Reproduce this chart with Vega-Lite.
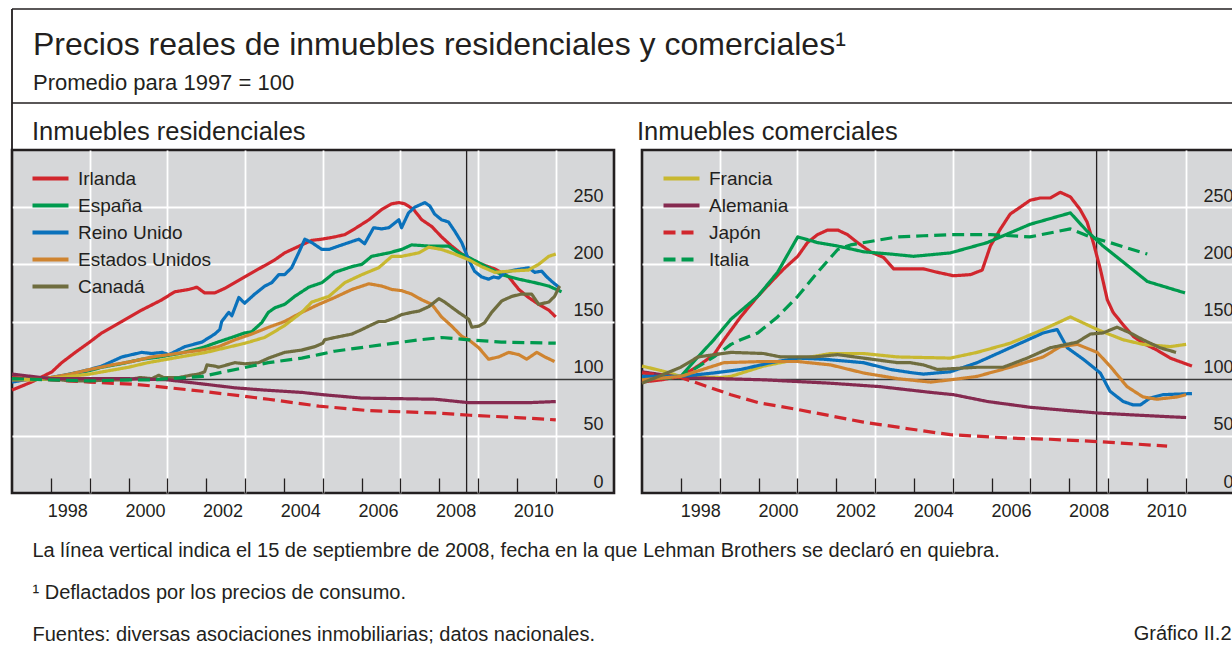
{
"$schema":"https://vega.github.io/schema/vega-lite/v6.json",
"background":"white",
"padding":{"left":9,"top":8,"right":0,"bottom":0},
"config":{
 "font":"Liberation Sans",
 "view":{"fill":"#d6d7d9","stroke":"#231f20","strokeWidth":2.6},
 "axis":{"labelFont":"Liberation Sans","labelFontSize":18,"labelColor":"#231f20","titleFont":"Liberation Sans","titleFontWeight":"normal","titleColor":"#231f20"},
 "title":{"font":"Liberation Sans","fontWeight":"normal","color":"#231f20","subtitleFont":"Liberation Sans","subtitleColor":"#231f20"},
 "legend":{"labelFont":"Liberation Sans","labelFontSize":19,"labelColor":"#231f20","title":null,"padding":0}
},
"datasets":{
"res":[
{"s":"Irlanda","x":1997.0,"y":90},{"s":"Irlanda","x":1997.5,"y":97},{"s":"Irlanda","x":1998.03,"y":106},{"s":"Irlanda","x":1998.28,"y":114},{"s":"Irlanda","x":1998.67,"y":124},{"s":"Irlanda","x":1999.0,"y":132},{"s":"Irlanda","x":1999.31,"y":140},{"s":"Irlanda","x":1999.83,"y":150},{"s":"Irlanda","x":2000.34,"y":160},{"s":"Irlanda","x":2000.86,"y":169},{"s":"Irlanda","x":2001.19,"y":176},{"s":"Irlanda","x":2001.55,"y":178},{"s":"Irlanda","x":2001.76,"y":180},{"s":"Irlanda","x":2001.96,"y":175},{"s":"Irlanda","x":2002.22,"y":175},{"s":"Irlanda","x":2002.48,"y":179},{"s":"Irlanda","x":2002.99,"y":189},{"s":"Irlanda","x":2003.25,"y":194},{"s":"Irlanda","x":2003.77,"y":204},{"s":"Irlanda","x":2004.02,"y":210},{"s":"Irlanda","x":2004.46,"y":217},{"s":"Irlanda","x":2004.72,"y":221},{"s":"Irlanda","x":2004.98,"y":222},{"s":"Irlanda","x":2005.31,"y":224},{"s":"Irlanda","x":2005.57,"y":226},{"s":"Irlanda","x":2005.82,"y":231},{"s":"Irlanda","x":2006.19,"y":239},{"s":"Irlanda","x":2006.52,"y":248},{"s":"Irlanda","x":2006.78,"y":253},{"s":"Irlanda","x":2006.96,"y":254},{"s":"Irlanda","x":2007.11,"y":253},{"s":"Irlanda","x":2007.34,"y":248},{"s":"Irlanda","x":2007.55,"y":239},{"s":"Irlanda","x":2007.81,"y":233},{"s":"Irlanda","x":2008.06,"y":224},{"s":"Irlanda","x":2008.32,"y":216},{"s":"Irlanda","x":2008.58,"y":209},{"s":"Irlanda","x":2008.84,"y":204},{"s":"Irlanda","x":2009.09,"y":200},{"s":"Irlanda","x":2009.43,"y":196},{"s":"Irlanda","x":2009.79,"y":189},{"s":"Irlanda","x":2010.05,"y":178},{"s":"Irlanda","x":2010.3,"y":171},{"s":"Irlanda","x":2010.56,"y":165},{"s":"Irlanda","x":2010.82,"y":160},{"s":"Irlanda","x":2011.0,"y":154},
{"s":"España","x":1997.0,"y":101},{"s":"España","x":1997.5,"y":99},{"s":"España","x":1998.0,"y":100},{"s":"España","x":1998.5,"y":104},{"s":"España","x":1999.0,"y":107},{"s":"España","x":1999.31,"y":110},{"s":"España","x":1999.8,"y":113},{"s":"España","x":2000.34,"y":117},{"s":"España","x":2000.8,"y":119},{"s":"España","x":2001.3,"y":122},{"s":"España","x":2001.89,"y":127},{"s":"España","x":2002.3,"y":132},{"s":"España","x":2002.74,"y":137},{"s":"España","x":2002.99,"y":140},{"s":"España","x":2003.17,"y":141},{"s":"España","x":2003.43,"y":149},{"s":"España","x":2003.6,"y":158},{"s":"España","x":2003.77,"y":162},{"s":"España","x":2004.02,"y":165},{"s":"España","x":2004.28,"y":172},{"s":"España","x":2004.64,"y":180},{"s":"España","x":2004.98,"y":184},{"s":"España","x":2005.31,"y":193},{"s":"España","x":2005.75,"y":198},{"s":"España","x":2006.01,"y":200},{"s":"España","x":2006.26,"y":207},{"s":"España","x":2006.7,"y":210},{"s":"España","x":2007.03,"y":213},{"s":"España","x":2007.29,"y":217},{"s":"España","x":2007.73,"y":216},{"s":"España","x":2008.24,"y":216},{"s":"España","x":2008.5,"y":210},{"s":"España","x":2008.76,"y":206},{"s":"España","x":2009.27,"y":197},{"s":"España","x":2009.61,"y":191},{"s":"España","x":2010.05,"y":187},{"s":"España","x":2010.46,"y":184},{"s":"España","x":2010.82,"y":181},{"s":"España","x":2011.15,"y":176},
{"s":"Reino Unido","x":1997.0,"y":97},{"s":"Reino Unido","x":1997.5,"y":100},{"s":"Reino Unido","x":1998.0,"y":101},{"s":"Reino Unido","x":1998.5,"y":104},{"s":"Reino Unido","x":1999.0,"y":108},{"s":"Reino Unido","x":1999.31,"y":111},{"s":"Reino Unido","x":1999.57,"y":115},{"s":"Reino Unido","x":1999.83,"y":119},{"s":"Reino Unido","x":2000.08,"y":121},{"s":"Reino Unido","x":2000.34,"y":123},{"s":"Reino Unido","x":2000.6,"y":122},{"s":"Reino Unido","x":2000.86,"y":123},{"s":"Reino Unido","x":2001.04,"y":121},{"s":"Reino Unido","x":2001.45,"y":128},{"s":"Reino Unido","x":2001.89,"y":132},{"s":"Reino Unido","x":2002.22,"y":139},{"s":"Reino Unido","x":2002.35,"y":143},{"s":"Reino Unido","x":2002.4,"y":150},{"s":"Reino Unido","x":2002.58,"y":158},{"s":"Reino Unido","x":2002.66,"y":155},{"s":"Reino Unido","x":2002.84,"y":171},{"s":"Reino Unido","x":2002.99,"y":166},{"s":"Reino Unido","x":2003.25,"y":174},{"s":"Reino Unido","x":2003.51,"y":181},{"s":"Reino Unido","x":2003.69,"y":184},{"s":"Reino Unido","x":2003.87,"y":191},{"s":"Reino Unido","x":2004.02,"y":191},{"s":"Reino Unido","x":2004.2,"y":197},{"s":"Reino Unido","x":2004.38,"y":210},{"s":"Reino Unido","x":2004.54,"y":222},{"s":"Reino Unido","x":2004.72,"y":219},{"s":"Reino Unido","x":2004.98,"y":213},{"s":"Reino Unido","x":2005.16,"y":213},{"s":"Reino Unido","x":2005.41,"y":216},{"s":"Reino Unido","x":2005.67,"y":219},{"s":"Reino Unido","x":2005.93,"y":222},{"s":"Reino Unido","x":2006.08,"y":218},{"s":"Reino Unido","x":2006.31,"y":232},{"s":"Reino Unido","x":2006.52,"y":231},{"s":"Reino Unido","x":2006.7,"y":232},{"s":"Reino Unido","x":2006.96,"y":239},{"s":"Reino Unido","x":2007.03,"y":232},{"s":"Reino Unido","x":2007.21,"y":245},{"s":"Reino Unido","x":2007.37,"y":250},{"s":"Reino Unido","x":2007.63,"y":254},{"s":"Reino Unido","x":2007.76,"y":251},{"s":"Reino Unido","x":2007.88,"y":244},{"s":"Reino Unido","x":2008.06,"y":239},{"s":"Reino Unido","x":2008.24,"y":237},{"s":"Reino Unido","x":2008.4,"y":229},{"s":"Reino Unido","x":2008.58,"y":219},{"s":"Reino Unido","x":2008.76,"y":204},{"s":"Reino Unido","x":2008.91,"y":194},{"s":"Reino Unido","x":2009.09,"y":189},{"s":"Reino Unido","x":2009.27,"y":187},{"s":"Reino Unido","x":2009.4,"y":189},{"s":"Reino Unido","x":2009.53,"y":188},{"s":"Reino Unido","x":2009.69,"y":193},{"s":"Reino Unido","x":2009.94,"y":195},{"s":"Reino Unido","x":2010.3,"y":197},{"s":"Reino Unido","x":2010.46,"y":193},{"s":"Reino Unido","x":2010.64,"y":194},{"s":"Reino Unido","x":2010.77,"y":189},{"s":"Reino Unido","x":2010.9,"y":185},{"s":"Reino Unido","x":2011.08,"y":180},
{"s":"Estados Unidos","x":1997.0,"y":99},{"s":"Estados Unidos","x":1997.5,"y":99},{"s":"Estados Unidos","x":1998.0,"y":101},{"s":"Estados Unidos","x":1998.5,"y":104},{"s":"Estados Unidos","x":1999.0,"y":108},{"s":"Estados Unidos","x":1999.57,"y":112},{"s":"Estados Unidos","x":2000.08,"y":115},{"s":"Estados Unidos","x":2000.6,"y":119},{"s":"Estados Unidos","x":2001.04,"y":121},{"s":"Estados Unidos","x":2001.45,"y":123},{"s":"Estados Unidos","x":2001.89,"y":125},{"s":"Estados Unidos","x":2002.32,"y":128},{"s":"Estados Unidos","x":2002.74,"y":134},{"s":"Estados Unidos","x":2003.17,"y":139},{"s":"Estados Unidos","x":2003.61,"y":145},{"s":"Estados Unidos","x":2004.02,"y":150},{"s":"Estados Unidos","x":2004.46,"y":158},{"s":"Estados Unidos","x":2004.9,"y":165},{"s":"Estados Unidos","x":2005.31,"y":171},{"s":"Estados Unidos","x":2005.75,"y":178},{"s":"Estados Unidos","x":2006.19,"y":183},{"s":"Estados Unidos","x":2006.52,"y":181},{"s":"Estados Unidos","x":2006.78,"y":178},{"s":"Estados Unidos","x":2007.03,"y":177},{"s":"Estados Unidos","x":2007.29,"y":174},{"s":"Estados Unidos","x":2007.55,"y":169},{"s":"Estados Unidos","x":2007.81,"y":165},{"s":"Estados Unidos","x":2008.06,"y":154},{"s":"Estados Unidos","x":2008.32,"y":146},{"s":"Estados Unidos","x":2008.58,"y":137},{"s":"Estados Unidos","x":2008.76,"y":134},{"s":"Estados Unidos","x":2009.02,"y":127},{"s":"Estados Unidos","x":2009.27,"y":117},{"s":"Estados Unidos","x":2009.53,"y":119},{"s":"Estados Unidos","x":2009.79,"y":123},{"s":"Estados Unidos","x":2010.05,"y":121},{"s":"Estados Unidos","x":2010.25,"y":117},{"s":"Estados Unidos","x":2010.51,"y":123},{"s":"Estados Unidos","x":2010.72,"y":119},{"s":"Estados Unidos","x":2010.97,"y":115},
{"s":"Canadá","x":1997.0,"y":99},{"s":"Canadá","x":1997.5,"y":100},{"s":"Canadá","x":1998.0,"y":100},{"s":"Canadá","x":1998.5,"y":98},{"s":"Canadá","x":1999.0,"y":98},{"s":"Canadá","x":1999.5,"y":99},{"s":"Canadá","x":2000.0,"y":99},{"s":"Canadá","x":2000.3,"y":101},{"s":"Canadá","x":2000.6,"y":100},{"s":"Canadá","x":2000.78,"y":103},{"s":"Canadá","x":2000.9,"y":101},{"s":"Canadá","x":2001.3,"y":101},{"s":"Canadá","x":2001.6,"y":103},{"s":"Canadá","x":2001.8,"y":104},{"s":"Canadá","x":2001.96,"y":106},{"s":"Canadá","x":2002.02,"y":112},{"s":"Canadá","x":2002.22,"y":111},{"s":"Canadá","x":2002.32,"y":110},{"s":"Canadá","x":2002.74,"y":114},{"s":"Canadá","x":2003.0,"y":113},{"s":"Canadá","x":2003.35,"y":114},{"s":"Canadá","x":2003.61,"y":118},{"s":"Canadá","x":2004.02,"y":123},{"s":"Canadá","x":2004.46,"y":125},{"s":"Canadá","x":2004.8,"y":128},{"s":"Canadá","x":2005.0,"y":131},{"s":"Canadá","x":2005.05,"y":134},{"s":"Canadá","x":2005.31,"y":136},{"s":"Canadá","x":2005.75,"y":139},{"s":"Canadá","x":2006.01,"y":143},{"s":"Canadá","x":2006.19,"y":146},{"s":"Canadá","x":2006.44,"y":150},{"s":"Canadá","x":2006.6,"y":150},{"s":"Canadá","x":2006.85,"y":153},{"s":"Canadá","x":2007.03,"y":156},{"s":"Canadá","x":2007.29,"y":158},{"s":"Canadá","x":2007.47,"y":159},{"s":"Canadá","x":2007.73,"y":163},{"s":"Canadá","x":2007.99,"y":170},{"s":"Canadá","x":2008.14,"y":167},{"s":"Canadá","x":2008.5,"y":158},{"s":"Canadá","x":2008.76,"y":152},{"s":"Canadá","x":2008.84,"y":145},{"s":"Canadá","x":2009.02,"y":146},{"s":"Canadá","x":2009.17,"y":149},{"s":"Canadá","x":2009.35,"y":158},{"s":"Canadá","x":2009.61,"y":168},{"s":"Canadá","x":2009.87,"y":172},{"s":"Canadá","x":2010.12,"y":174},{"s":"Canadá","x":2010.38,"y":174},{"s":"Canadá","x":2010.56,"y":165},{"s":"Canadá","x":2010.82,"y":167},{"s":"Canadá","x":2010.97,"y":172},{"s":"Canadá","x":2011.1,"y":181},
{"s":"Francia","x":1997.0,"y":100},{"s":"Francia","x":1997.5,"y":99},{"s":"Francia","x":1998.0,"y":100},{"s":"Francia","x":1998.5,"y":102},{"s":"Francia","x":1999.0,"y":104},{"s":"Francia","x":1999.5,"y":107},{"s":"Francia","x":2000.0,"y":110},{"s":"Francia","x":2000.5,"y":114},{"s":"Francia","x":2001.0,"y":117},{"s":"Francia","x":2001.5,"y":120},{"s":"Francia","x":2002.0,"y":123},{"s":"Francia","x":2002.5,"y":127},{"s":"Francia","x":2003.0,"y":131},{"s":"Francia","x":2003.5,"y":136},{"s":"Francia","x":2004.0,"y":146},{"s":"Francia","x":2004.46,"y":158},{"s":"Francia","x":2004.72,"y":167},{"s":"Francia","x":2005.16,"y":172},{"s":"Francia","x":2005.57,"y":184},{"s":"Francia","x":2006.01,"y":191},{"s":"Francia","x":2006.44,"y":197},{"s":"Francia","x":2006.78,"y":207},{"s":"Francia","x":2007.03,"y":207},{"s":"Francia","x":2007.47,"y":210},{"s":"Francia","x":2007.73,"y":215},{"s":"Francia","x":2008.06,"y":213},{"s":"Francia","x":2008.4,"y":209},{"s":"Francia","x":2008.76,"y":204},{"s":"Francia","x":2009.09,"y":198},{"s":"Francia","x":2009.43,"y":193},{"s":"Francia","x":2009.79,"y":194},{"s":"Francia","x":2010.3,"y":195},{"s":"Francia","x":2010.56,"y":200},{"s":"Francia","x":2010.82,"y":207},{"s":"Francia","x":2011.0,"y":209},
{"s":"Alemania","x":1997.0,"y":104},{"s":"Alemania","x":1997.5,"y":102},{"s":"Alemania","x":1998.0,"y":100},{"s":"Alemania","x":1999.0,"y":100},{"s":"Alemania","x":2000.0,"y":100},{"s":"Alemania","x":2001.0,"y":99},{"s":"Alemania","x":2002.0,"y":95},{"s":"Alemania","x":2002.74,"y":92},{"s":"Alemania","x":2003.5,"y":90},{"s":"Alemania","x":2004.46,"y":88},{"s":"Alemania","x":2005.0,"y":86},{"s":"Alemania","x":2006.0,"y":83},{"s":"Alemania","x":2007.0,"y":82.5},{"s":"Alemania","x":2007.9,"y":82},{"s":"Alemania","x":2008.76,"y":79},{"s":"Alemania","x":2009.6,"y":79},{"s":"Alemania","x":2010.3,"y":79},{"s":"Alemania","x":2011.0,"y":80},
{"s":"Japón","x":1997.0,"y":101},{"s":"Japón","x":1998.0,"y":99},{"s":"Japón","x":1999.0,"y":97},{"s":"Japón","x":2000.2,"y":95},{"s":"Japón","x":2001.9,"y":89},{"s":"Japón","x":2003.6,"y":82},{"s":"Japón","x":2004.9,"y":76},{"s":"Japón","x":2006.2,"y":72},{"s":"Japón","x":2007.9,"y":70},{"s":"Japón","x":2008.8,"y":68},{"s":"Japón","x":2010.0,"y":66},{"s":"Japón","x":2011.0,"y":64},
{"s":"Italia","x":1997.0,"y":100},{"s":"Italia","x":1998.0,"y":99},{"s":"Italia","x":1999.0,"y":98},{"s":"Italia","x":2000.0,"y":99},{"s":"Italia","x":2000.6,"y":99},{"s":"Italia","x":2001.9,"y":102},{"s":"Italia","x":2003.6,"y":114},{"s":"Italia","x":2004.46,"y":118},{"s":"Italia","x":2004.9,"y":121},{"s":"Italia","x":2005.3,"y":124},{"s":"Italia","x":2006.6,"y":130},{"s":"Italia","x":2007.5,"y":134},{"s":"Italia","x":2008.06,"y":136},{"s":"Italia","x":2008.76,"y":134},{"s":"Italia","x":2009.6,"y":132},{"s":"Italia","x":2011.0,"y":131}
],
"com":[
{"s":"Irlanda","x":1997.0,"y":97},{"s":"Irlanda","x":1997.5,"y":99},{"s":"Irlanda","x":1998.0,"y":102},{"s":"Irlanda","x":1998.44,"y":111},{"s":"Irlanda","x":1998.85,"y":121},{"s":"Irlanda","x":1999.11,"y":134},{"s":"Irlanda","x":1999.54,"y":154},{"s":"Irlanda","x":1999.98,"y":172},{"s":"Irlanda","x":2000.31,"y":184},{"s":"Irlanda","x":2000.65,"y":196},{"s":"Irlanda","x":2001.01,"y":207},{"s":"Irlanda","x":2001.26,"y":219},{"s":"Irlanda","x":2001.52,"y":226},{"s":"Irlanda","x":2001.78,"y":230},{"s":"Irlanda","x":2002.04,"y":230},{"s":"Irlanda","x":2002.29,"y":226},{"s":"Irlanda","x":2002.55,"y":219},{"s":"Irlanda","x":2002.88,"y":211},{"s":"Irlanda","x":2003.22,"y":206},{"s":"Irlanda","x":2003.48,"y":196},{"s":"Irlanda","x":2003.84,"y":196},{"s":"Irlanda","x":2004.25,"y":196},{"s":"Irlanda","x":2004.61,"y":193},{"s":"Irlanda","x":2005.02,"y":190},{"s":"Irlanda","x":2005.46,"y":191},{"s":"Irlanda","x":2005.76,"y":195},{"s":"Irlanda","x":2005.97,"y":216},{"s":"Irlanda","x":2006.23,"y":231},{"s":"Irlanda","x":2006.48,"y":244},{"s":"Irlanda","x":2006.74,"y":250},{"s":"Irlanda","x":2006.99,"y":256},{"s":"Irlanda","x":2007.25,"y":258},{"s":"Irlanda","x":2007.51,"y":258},{"s":"Irlanda","x":2007.77,"y":263},{"s":"Irlanda","x":2008.03,"y":259},{"s":"Irlanda","x":2008.28,"y":248},{"s":"Irlanda","x":2008.46,"y":237},{"s":"Irlanda","x":2008.62,"y":219},{"s":"Irlanda","x":2008.8,"y":196},{"s":"Irlanda","x":2008.98,"y":169},{"s":"Irlanda","x":2009.13,"y":158},{"s":"Irlanda","x":2009.39,"y":147},{"s":"Irlanda","x":2009.65,"y":137},{"s":"Irlanda","x":2009.9,"y":131},{"s":"Irlanda","x":2010.26,"y":125},{"s":"Irlanda","x":2010.6,"y":118},{"s":"Irlanda","x":2011.16,"y":111},
{"s":"España","x":1997.0,"y":102},{"s":"España","x":1998.0,"y":102},{"s":"España","x":1998.44,"y":119},{"s":"España","x":1998.85,"y":134},{"s":"España","x":1999.29,"y":152},{"s":"España","x":1999.98,"y":172},{"s":"España","x":2000.49,"y":193},{"s":"España","x":2001.01,"y":224},{"s":"España","x":2001.52,"y":219},{"s":"España","x":2002.04,"y":216},{"s":"España","x":2002.7,"y":211},{"s":"España","x":2003.4,"y":209},{"s":"España","x":2003.99,"y":207},{"s":"España","x":2004.94,"y":210},{"s":"España","x":2005.89,"y":219},{"s":"España","x":2006.99,"y":235},{"s":"España","x":2008.03,"y":245},{"s":"España","x":2008.46,"y":229},{"s":"España","x":2008.87,"y":216},{"s":"España","x":2009.39,"y":202},{"s":"España","x":2010.01,"y":185},{"s":"España","x":2010.98,"y":175},
{"s":"Italia","x":1997.0,"y":100},{"s":"Italia","x":1998.0,"y":101},{"s":"Italia","x":1998.85,"y":119},{"s":"Italia","x":1999.29,"y":130},{"s":"Italia","x":1999.54,"y":134},{"s":"Italia","x":1999.98,"y":140},{"s":"Italia","x":2000.49,"y":154},{"s":"Italia","x":2001.01,"y":172},{"s":"Italia","x":2001.52,"y":193},{"s":"Italia","x":2002.04,"y":213},{"s":"Italia","x":2002.37,"y":217},{"s":"Italia","x":2002.88,"y":220},{"s":"Italia","x":2003.58,"y":224},{"s":"Italia","x":2004.25,"y":225},{"s":"Italia","x":2004.94,"y":226},{"s":"Italia","x":2005.97,"y":226},{"s":"Italia","x":2006.99,"y":224},{"s":"Italia","x":2008.03,"y":231},{"s":"Italia","x":2008.54,"y":224},{"s":"Italia","x":2009.05,"y":219},{"s":"Italia","x":2010.01,"y":209},
{"s":"Francia","x":1997.0,"y":111},{"s":"Francia","x":1997.5,"y":107},{"s":"Francia","x":1998.0,"y":102},{"s":"Francia","x":1999.0,"y":101},{"s":"Francia","x":1999.29,"y":102},{"s":"Francia","x":2000.13,"y":111},{"s":"Francia","x":2001.01,"y":117},{"s":"Francia","x":2001.86,"y":122},{"s":"Francia","x":2002.7,"y":122},{"s":"Francia","x":2003.58,"y":119},{"s":"Francia","x":2004.94,"y":118},{"s":"Francia","x":2005.63,"y":123},{"s":"Francia","x":2006.48,"y":131},{"s":"Francia","x":2007.33,"y":143},{"s":"Francia","x":2008.03,"y":154},{"s":"Francia","x":2008.72,"y":143},{"s":"Francia","x":2009.39,"y":134},{"s":"Francia","x":2009.9,"y":130},{"s":"Francia","x":2010.6,"y":128},{"s":"Francia","x":2011.01,"y":130},
{"s":"Alemania","x":1997.0,"y":106},{"s":"Alemania","x":1998.0,"y":101},{"s":"Alemania","x":2000.13,"y":99},{"s":"Alemania","x":2001.86,"y":96},{"s":"Alemania","x":2003.14,"y":93},{"s":"Alemania","x":2004.43,"y":88},{"s":"Alemania","x":2005.02,"y":86},{"s":"Alemania","x":2005.9,"y":80},{"s":"Alemania","x":2006.99,"y":75},{"s":"Alemania","x":2008.0,"y":72},{"s":"Alemania","x":2008.72,"y":70},{"s":"Alemania","x":2009.8,"y":68},{"s":"Alemania","x":2011.01,"y":66},
{"s":"Japón","x":1997.0,"y":105},{"s":"Japón","x":1998.0,"y":101},{"s":"Japón","x":1999.29,"y":86},{"s":"Japón","x":2000.0,"y":79},{"s":"Japón","x":2001.01,"y":73},{"s":"Japón","x":2002.7,"y":62},{"s":"Japón","x":2003.9,"y":56},{"s":"Japón","x":2004.94,"y":51},{"s":"Japón","x":2006.48,"y":48},{"s":"Japón","x":2007.51,"y":47},{"s":"Japón","x":2008.72,"y":45},{"s":"Japón","x":2010.52,"y":41},
{"s":"Reino Unido","x":1997.0,"y":102},{"s":"Reino Unido","x":1998.0,"y":102},{"s":"Reino Unido","x":1998.85,"y":105},{"s":"Reino Unido","x":1999.54,"y":108},{"s":"Reino Unido","x":2000.31,"y":114},{"s":"Reino Unido","x":2001.01,"y":118},{"s":"Reino Unido","x":2001.68,"y":117},{"s":"Reino Unido","x":2002.7,"y":114},{"s":"Reino Unido","x":2003.4,"y":108},{"s":"Reino Unido","x":2003.99,"y":105},{"s":"Reino Unido","x":2004.25,"y":104},{"s":"Reino Unido","x":2004.94,"y":106},{"s":"Reino Unido","x":2005.63,"y":114},{"s":"Reino Unido","x":2006.48,"y":127},{"s":"Reino Unido","x":2007.33,"y":140},{"s":"Reino Unido","x":2007.69,"y":143},{"s":"Reino Unido","x":2007.95,"y":127},{"s":"Reino Unido","x":2008.36,"y":117},{"s":"Reino Unido","x":2008.8,"y":105},{"s":"Reino Unido","x":2009.05,"y":89},{"s":"Reino Unido","x":2009.39,"y":80},{"s":"Reino Unido","x":2009.65,"y":77},{"s":"Reino Unido","x":2009.83,"y":77},{"s":"Reino Unido","x":2010.08,"y":83},{"s":"Reino Unido","x":2010.42,"y":86},{"s":"Reino Unido","x":2011.16,"y":87},
{"s":"Estados Unidos","x":1997.0,"y":99},{"s":"Estados Unidos","x":1998.0,"y":102},{"s":"Estados Unidos","x":1999.11,"y":114},{"s":"Estados Unidos","x":2000.13,"y":115},{"s":"Estados Unidos","x":2001.01,"y":115},{"s":"Estados Unidos","x":2001.86,"y":112},{"s":"Estados Unidos","x":2002.7,"y":105},{"s":"Estados Unidos","x":2003.58,"y":100},{"s":"Estados Unidos","x":2004.43,"y":97},{"s":"Estados Unidos","x":2004.94,"y":99},{"s":"Estados Unidos","x":2005.63,"y":102},{"s":"Estados Unidos","x":2006.48,"y":110},{"s":"Estados Unidos","x":2007.33,"y":119},{"s":"Estados Unidos","x":2007.77,"y":128},{"s":"Estados Unidos","x":2008.21,"y":130},{"s":"Estados Unidos","x":2008.72,"y":123},{"s":"Estados Unidos","x":2009.05,"y":111},{"s":"Estados Unidos","x":2009.49,"y":93},{"s":"Estados Unidos","x":2009.9,"y":84},{"s":"Estados Unidos","x":2010.26,"y":82},{"s":"Estados Unidos","x":2010.78,"y":84},{"s":"Estados Unidos","x":2011.01,"y":86},
{"s":"Canadá","x":1997.0,"y":96},{"s":"Canadá","x":1998.0,"y":110},{"s":"Canadá","x":1998.44,"y":119},{"s":"Canadá","x":1999.29,"y":123},{"s":"Canadá","x":2000.13,"y":122},{"s":"Canadá","x":2000.57,"y":119},{"s":"Canadá","x":2001.42,"y":119},{"s":"Canadá","x":2002.04,"y":121},{"s":"Canadá","x":2002.7,"y":118},{"s":"Canadá","x":2003.58,"y":114},{"s":"Canadá","x":2003.91,"y":114},{"s":"Canadá","x":2004.25,"y":112},{"s":"Canadá","x":2004.61,"y":108},{"s":"Canadá","x":2005.63,"y":110},{"s":"Canadá","x":2006.3,"y":110},{"s":"Canadá","x":2006.92,"y":118},{"s":"Canadá","x":2007.51,"y":127},{"s":"Canadá","x":2008.21,"y":132},{"s":"Canadá","x":2008.54,"y":139},{"s":"Canadá","x":2008.87,"y":140},{"s":"Canadá","x":2009.23,"y":145},{"s":"Canadá","x":2009.57,"y":140},{"s":"Canadá","x":2009.9,"y":134},{"s":"Canadá","x":2010.34,"y":127},{"s":"Canadá","x":2010.75,"y":123}
],
"lehman":[{"x":2008.705}],
"frame":[{"edge":1},{"edge":3}]
},
"bounds":"flush",
"spacing":0,
"vconcat":[
 {
  "width":1222,"height":141,
  "view":{"fill":null,"stroke":null},
  "title":{"text":"Precios reales de inmuebles residenciales y comerciales¹","subtitle":"Promedio para 1997 = 100","anchor":"start","frame":"group","orient":"top","offset":-87,"dx":21,"fontSize":32,"subtitleFontSize":22,"subtitlePadding":11},
  "data":{"name":"frame"},
  "layer":[
   {"mark":{"type":"rule","color":"#231f20","strokeWidth":1.5},"encoding":{"y":{"field":"edge","type":"quantitative","scale":{"domain":[0,3]},"axis":null}}},
   {"mark":{"type":"rule","color":"#231f20","strokeWidth":1.4},"encoding":{"x":{"datum":0,"type":"quantitative","scale":{"domain":[0,1]},"axis":null}}}
  ]
 },
 {
  "hconcat":[
   {
    "width":602,"height":343,
    "title":{"text":"Inmuebles residenciales","anchor":"start","frame":"group","dx":20,"offset":-16,"fontSize":25.5,"baseline":"alphabetic"},
    "layer":[
     {"data":{"name":"lehman"},"mark":{"type":"rule","color":"#231f20","strokeWidth":1.3},"encoding":{"x":{"field":"x","type":"quantitative"}}},
     {"data":{"name":"res"},"mark":{"type":"line","strokeWidth":3.2,"strokeJoin":"round"},
      "encoding":{
       "x":{"field":"x","type":"quantitative","scale":{"domain":[1997,2012.5],"nice":false,"zero":false},
        "axis":{"values":[1998,1999,2000,2001,2002,2003,2004,2005,2006,2007,2008,2009,2010,2011],"domain":false,"ticks":true,"tickSize":-15,"tickColor":"#231f20","tickWidth":1.3,
         "grid":true,"gridColor":"white","gridWidth":1.8,"gridOpacity":{"condition":{"test":"datum.value % 2 == 1","value":1},"value":0},
         "labelExpr":"datum.value % 2 == 0 ? '' + datum.value : ''","labelOffset":16.4,"labelPadding":24,"labelOverlap":false,"labelFlush":false,"labelBound":false,
         "title":["La línea vertical indica el 15 de septiembre de 2008, fecha en la que Lehman Brothers se declaró en quiebra.","¹ Deflactados por los precios de consumo.","Fuentes: diversas asociaciones inmobiliarias; datos nacionales."],
         "titleX":20,"titleY":63,"titleAnchor":"start","titleAlign":"left","titleBaseline":"alphabetic","titleFontSize":20,"titleLineHeight":42}},
       "y":{"field":"y","type":"quantitative","scale":{"domain":[0,300],"nice":false},
        "axis":{"orient":"right","values":[0,50,100,150,200,250],"domain":false,"ticks":false,"grid":true,
         "gridColor":{"condition":{"test":"datum.value == 100","value":"#3a3a3a"},"value":"white"},
         "gridWidth":{"condition":{"test":"datum.value == 100","value":1.3},"value":1.8},
         "gridOpacity":{"condition":{"test":"datum.value == 0","value":0},"value":1},
         "labelAlign":"right","labelPadding":-11,"labelBaseline":"alphabetic","labelOffset":-6,"title":null}},
       "color":{"field":"s","type":"nominal","scale":{"domain":["Irlanda","España","Reino Unido","Estados Unidos","Canadá","Francia","Alemania","Japón","Italia"],"range":["#d1262d","#009a4e","#0a71bb","#cf8430","#6f6d3f","#c8b830","#852a50","#d1262d","#009a4e"]},
        "legend":{"values":["Irlanda","España","Reino Unido","Estados Unidos","Canadá"],"orient":"none","legendX":29,"legendY":19,"symbolType":"M-3,0H3","symbolSize":144,"symbolStrokeWidth":4,"labelOffset":18,"rowPadding":7}},
       "strokeDash":{"field":"s","type":"nominal","scale":{"domain":["Irlanda","España","Reino Unido","Estados Unidos","Canadá","Francia","Alemania","Japón","Italia"],"range":[[1,0],[1,0],[1,0],[1,0],[1,0],[1,0],[1,0],[12,6],[12,6]]},
        "legend":{"values":["Irlanda","España","Reino Unido","Estados Unidos","Canadá"],"orient":"none","legendX":29,"legendY":19,"symbolType":"M-3,0H3","symbolSize":144,"symbolStrokeWidth":4,"labelOffset":18,"rowPadding":7}}
      }}
    ]
   },
   {
    "width":602,"height":343,
    "title":{"text":"Inmuebles comerciales","anchor":"start","frame":"group","dx":-5,"offset":-16,"fontSize":25.5,"baseline":"alphabetic"},
    "layer":[
     {"data":{"name":"lehman"},"mark":{"type":"rule","color":"#231f20","strokeWidth":1.3},"encoding":{"x":{"field":"x","type":"quantitative"}}},
     {"data":{"name":"com"},"mark":{"type":"line","strokeWidth":3.2,"strokeJoin":"round"},
      "encoding":{
       "x":{"field":"x","type":"quantitative","scale":{"domain":[1997,2012.5],"nice":false,"zero":false},
        "axis":{"values":[1998,1999,2000,2001,2002,2003,2004,2005,2006,2007,2008,2009,2010,2011],"domain":false,"ticks":true,"tickSize":-15,"tickColor":"#231f20","tickWidth":1.3,
         "grid":true,"gridColor":"white","gridWidth":1.8,"gridOpacity":{"condition":{"test":"datum.value % 2 == 1","value":1},"value":0},
         "labelExpr":"datum.value % 2 == 0 ? '' + datum.value : ''","labelOffset":19.4,"labelPadding":24,"labelOverlap":false,"labelFlush":false,"labelBound":false,
         "title":"Gráfico II.2","titleX":589,"titleY":146,"titleAnchor":"end","titleAlign":"right","titleBaseline":"alphabetic","titleFontSize":20}},
       "y":{"field":"y","type":"quantitative","scale":{"domain":[0,300],"nice":false},
        "axis":{"orient":"right","values":[0,50,100,150,200,250],"domain":false,"ticks":false,"grid":true,
         "gridColor":{"condition":{"test":"datum.value == 100","value":"#3a3a3a"},"value":"white"},
         "gridWidth":{"condition":{"test":"datum.value == 100","value":1.3},"value":1.8},
         "gridOpacity":{"condition":{"test":"datum.value == 0","value":0},"value":1},
         "labelAlign":"right","labelPadding":-11,"labelBaseline":"alphabetic","labelOffset":-6,"title":null}},
       "color":{"field":"s","type":"nominal","scale":{"domain":["Irlanda","España","Reino Unido","Estados Unidos","Canadá","Francia","Alemania","Japón","Italia"],"range":["#d1262d","#009a4e","#0a71bb","#cf8430","#6f6d3f","#c8b830","#852a50","#d1262d","#009a4e"]},
        "legend":{"values":["Francia","Alemania","Japón","Italia"],"orient":"none","legendX":30,"legendY":19,"symbolType":"M-3,0H3","symbolSize":144,"symbolStrokeWidth":4,"labelOffset":18,"rowPadding":7}},
       "strokeDash":{"field":"s","type":"nominal","scale":{"domain":["Irlanda","España","Reino Unido","Estados Unidos","Canadá","Francia","Alemania","Japón","Italia"],"range":[[1,0],[1,0],[1,0],[1,0],[1,0],[1,0],[1,0],[12,6],[12,6]]},
        "legend":{"values":["Francia","Alemania","Japón","Italia"],"orient":"none","legendX":30,"legendY":19,"symbolType":"M-3,0H3","symbolSize":144,"symbolStrokeWidth":4,"labelOffset":18,"rowPadding":7}}
      }}
    ]
   }
  ],
  "spacing":28,
  "bounds":"flush",
  "resolve":{"scale":{"x":"independent","y":"independent","color":"independent","strokeDash":"independent"},"legend":{"color":"independent","strokeDash":"independent"},"axis":{"x":"independent","y":"independent"}}
 },
 {
  "width":1222,"height":154,
  "view":{"fill":null,"stroke":null},
  "data":{"values":[{"edge":0}]},
  "mark":{"type":"rule","color":"#231f20","strokeWidth":1.4},
  "encoding":{"x":{"field":"edge","type":"quantitative","scale":{"domain":[0,1]},"axis":null}}
 }
]
}
